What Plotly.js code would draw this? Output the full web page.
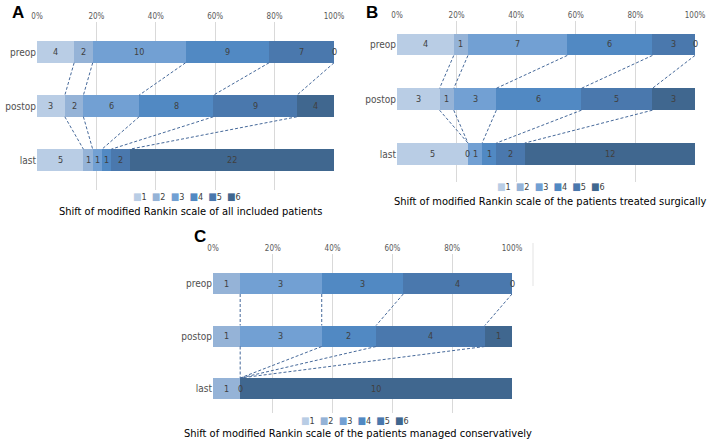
<!DOCTYPE html>
<html>
<head>
<meta charset="utf-8">
<script src="https://cdn.plot.ly/plotly-3.0.1.min.js"></script>
<style>body{margin:0;background:#fff}</style>
</head>
<body>
<div id="chart" style="width:708px;height:445px"></div>
<script>
// modified Rankin grades and time points
const grades = ["1", "2", "3", "4", "5", "6"];
const stages = ["preop", "postop", "last"];
const tickLabels = ["0%", "20%", "40%", "60%", "80%", "100%"];

// A: all included patients (counts per grade)
const allPreop = [4, 2, 10, 9, 7, 0];
const allPostop = [3, 2, 6, 8, 9, 4];
const allLast = [5, 1, 1, 1, 2, 22];

// B: treated surgically
const surgPreop = [4, 1, 7, 6, 3, 0];
const surgPostop = [3, 1, 3, 6, 5, 3];
const surgLast = [5, 0, 1, 1, 2, 12];

// C: managed conservatively
const consPreop = [0, 1, 3, 3, 4, 0];
const consPostop = [0, 1, 3, 2, 4, 1];
const consLast = [0, 1, 0, 0, 0, 10];

const panelLetters = ["A", "B", "C"];
const panelTitles = [
    "Shift of modified Rankin scale of all included patients",
    "Shift of modified Rankin scale of the patients treated surgically",
    "Shift of modified Rankin scale of the patients managed conservatively"
];

const colors = ["#b9cde5", "#95b3d7", "#72a0d3", "#5189c3", "#4a78ad", "#40678f"];
const W = 708, H = 445;
const font = "Liberation Sans Narrow, DejaVu Sans Condensed, Liberation Sans, sans-serif";

// pixel geometry of each panel: x of 0%/100%, bar centres top/bottom, grid top/bottom
const panels = [
    {data: [allPreop, allPostop, allLast], x0: 37, x1: 334, cTop: 52, cBot: 160, gTop: 22, gBot: 190,
     letter: [10, 12], title: [190, 211], legend: [187, 197]},
    {data: [surgPreop, surgPostop, surgLast], x0: 397, x1: 695, cTop: 44.5, cBot: 154, gTop: 21, gBot: 182,
     letter: [364, 12], title: [550, 202], legend: [551, 186]},
    {data: [consPreop, consPostop, consLast], x0: 213, x1: 512, cTop: 283.5, cBot: 388.5, gTop: 254, gBot: 413,
     letter: [192, 236], title: [358, 433.5], legend: [355, 420.5]}
];

function toPct(arr) {
    const total = arr.reduce((a, b) => a + b, 0);
    return arr.map(v => v / total * 100);
}

function cumulative(arr) {
    const out = [0];
    arr.forEach(v => out.push(out[out.length - 1] + v));
    return out;
}

const traces = [];
const annotations = [];
const layout = {
    width: W, height: H,
    margin: {l: 0, r: 0, t: 0, b: 0},
    paper_bgcolor: "#fff", plot_bgcolor: "rgba(0,0,0,0)",
    barmode: "stack",
    showlegend: false,
    font: {family: font, color: "#404040"},
    shapes: [{type: "line", xref: "paper", yref: "paper",
              x0: 533 / W, x1: 533 / W, y0: 1 - 243 / H, y1: 1 - 286 / H,
              line: {color: "#e3e3e3", width: 1}}],
    annotations: annotations
};

panels.forEach((p, i) => {
    const xa = i === 0 ? "x" : "x" + (i + 1);
    const ya = i === 0 ? "y" : "y" + (i + 1);
    const pct = p.data.map(toPct);
    const cum = pct.map(cumulative);
    const yPos = [2, 1, 0];

    // stacked bars, one trace per grade
    grades.forEach((g, k) => {
        traces.push({
            type: "bar", orientation: "h",
            x: pct.map(s => s[k]), y: yPos,
            xaxis: xa, yaxis: ya,
            width: 0.4,
            marker: {color: colors[k], line: {width: 0}},
            name: g, hoverinfo: "skip", textposition: "none"
        });
    });

    // value labels (a run of zeros at one spot gets a single "0")
    p.data.forEach((counts, s) => {
        counts.forEach((v, k) => {
            if (v === 0 && (cum[s][k] === 0 || (k > 0 && counts[k - 1] === 0))) return;
            annotations.push({
                xref: xa, yref: ya, x: cum[s][k] + pct[s][k] / 2, y: yPos[s],
                text: String(v), showarrow: false,
                font: {size: 9, color: "#404040"}
            });
        });
    });

    // dashed connectors between segment boundaries
    const lx = [], ly = [];
    for (let s = 0; s < 2; s++) {
        for (let k = 1; k <= 5; k++) {
            const a = cum[s][k], b = cum[s + 1][k];
            if (a === 0 && b === 0) continue;
            lx.push(a, b, null);
            ly.push(yPos[s] - 0.2, yPos[s + 1] + 0.2, null);
        }
    }
    traces.push({
        type: "scatter", mode: "lines", x: lx, y: ly,
        xaxis: xa, yaxis: ya, hoverinfo: "skip",
        line: {color: "#46699a", width: 1, dash: "3px,2px"}
    });

    const unit = (p.cBot - p.cTop) / 2;
    layout["xaxis" + (i === 0 ? "" : i + 1)] = {
        domain: [p.x0 / W, p.x1 / W], anchor: ya,
        range: [0, 100], side: "top",
        tickvals: [0, 20, 40, 60, 80, 100], ticktext: tickLabels,
        showgrid: true, gridcolor: "#d9d9d9", gridwidth: 1,
        zeroline: false, showline: false, ticks: "",
        tickfont: {size: 8, color: "#595959"}, fixedrange: true
    };
    layout["yaxis" + (i === 0 ? "" : i + 1)] = {
        domain: [1 - p.gBot / H, 1 - p.gTop / H], anchor: xa,
        range: [-(p.gBot - p.cBot) / unit, 2 + (p.cTop - p.gTop) / unit],
        tickvals: yPos, ticktext: stages,
        showgrid: false, zeroline: false, showline: false, ticks: "",
        tickfont: {size: 10, color: "#505050"}, fixedrange: true
    };

    // panel letter, legend, title
    annotations.push({
        xref: "paper", yref: "paper", x: p.letter[0] / W, y: 1 - p.letter[1] / H,
        text: "<b>" + panelLetters[i] + "</b>", showarrow: false,
        xanchor: "left", yanchor: "middle",
        font: {family: "Liberation Sans, Arial, sans-serif", size: 17, color: "#000"}
    });
    annotations.push({
        xref: "paper", yref: "paper", x: p.legend[0] / W, y: 1 - p.legend[1] / H,
        text: grades.map((g, k) => "<span style='color:" + colors[k] + ";font-size:10px'>■</span>" + g).join("  "),
        showarrow: false, xanchor: "center", yanchor: "middle",
        font: {size: 9, color: "#404040"}
    });
    annotations.push({
        xref: "paper", yref: "paper", x: p.title[0] / W, y: 1 - p.title[1] / H,
        text: panelTitles[i], showarrow: false, xanchor: "center", yanchor: "middle",
        font: {size: 11, color: "#000"}
    });
});

Plotly.newPlot("chart", traces, layout, {displayModeBar: false, staticPlot: true});
</script>
</body>
</html>
